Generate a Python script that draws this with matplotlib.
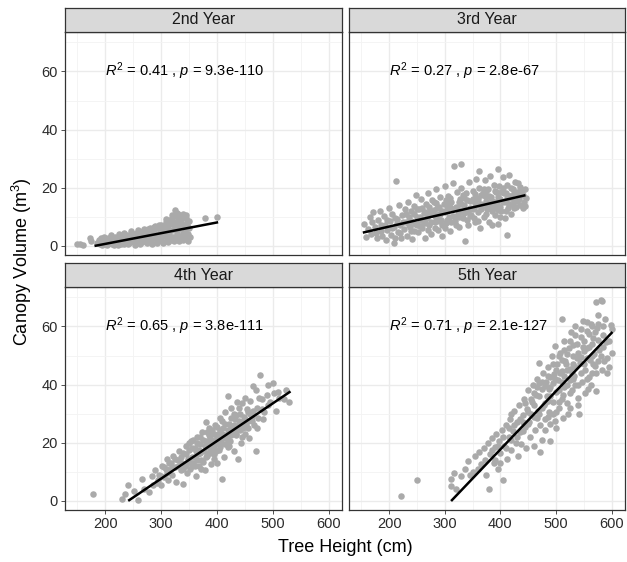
import matplotlib
matplotlib.use("Agg")
import matplotlib.pyplot as plt
import numpy as np

plt.rcParams['font.family'] = ['Liberation Sans', 'DejaVu Sans']
plt.rcParams['mathtext.fontset'] = 'custom'
plt.rcParams['mathtext.rm'] = 'Liberation Sans'
plt.rcParams['mathtext.it'] = 'Liberation Sans:italic'

# facet titles and fit statistics
years = ["2nd Year", "3rd Year", "4th Year", "5th Year"]
r2_labels = ["0.41", "0.27", "0.65", "0.71"]
p_labels = ["9.3e-110", "2.8e-67", "3.8e-111", "2.1e-127"]

# fitted lm lines (start/end of height range, predicted volume)
fit_x = [[183, 400], [155, 443], [243, 530], [313, 600]]
fit_y = [[0.0, 8.0], [4.6, 17.3], [0.2, 37.4], [0.2, 57.8]]

# 2nd year (height cm, volume m3)
pts2 = [(150,0.5),(155,0.6),(160,0.4),(172,2.6),(174,1.5),(185,0.8),(188,1.8),(190,0.5),(193,2.5),(196,1.2),
        (198,3.0),(200,0.6),(202,1.9),(205,2.8),(207,0.9),(210,3.6),(212,1.5),(214,2.2),(216,0.4),(218,3.1),
        (220,1.0),(222,2.6),(224,4.0),(226,1.4),(228,0.7),(230,3.3),(232,2.0),(234,4.5),(236,1.1),(238,2.9),
        (240,0.6),(242,3.8),(244,2.2),(246,5.0),(248,1.6),(250,3.0),(252,4.2),(254,0.9),(256,2.5),(258,5.4),
        (260,1.8),(262,3.6),(264,4.8),(266,1.2),(268,2.9),(270,5.9),(272,3.9),(274,0.8),(276,2.3),(278,4.4),
        (280,6.2),(282,1.6),(284,3.4),(286,5.1),(288,2.7),(290,6.8),(292,0.9),(294,4.0),(296,2.1),(298,5.6),
        (300,7.2),(302,3.2),(304,1.3),(306,4.7),(308,8.0),(310,2.5),(312,6.1),(314,3.8),(316,9.0),(318,1.8),
        (320,5.3),(322,7.6),(324,2.9),(325,12.2),(326,10.1),(328,4.4),(330,8.6),(332,1.6),(334,6.5),(336,9.6),
        (338,3.3),(339,2.0),(340,7.3),(342,5.0),(344,10.5),(346,8.2),(348,4.2),(350,6.0),(378,9.6),(400,9.8),
        (265,3.2),(275,2.5),(285,4.6),(295,3.1),(305,5.8),(315,4.9),(325,6.6),(335,7.8),(345,6.9),(300,4.5),
        (310,7.0),(320,9.6),(330,10.9),(340,11.0),(290,3.7),(280,3.5),(270,2.0),(260,2.8),(250,1.5),(240,2.0),
        (230,1.4),(300,2.2),(310,3.9),(320,3.0),(330,5.6),(340,4.5),(350,8.5),(352,3.0),
        (195,0.3),(205,1.2),(215,1.8),(225,2.2),(235,2.6),(245,3.0),(255,3.6),(265,4.2),(275,4.0),(285,5.5),
        (295,6.0),(305,6.8),(315,7.4),(325,8.2),(335,9.0),(345,9.5),(203,0.3),(213,0.6),(223,0.2),(233,0.5),
        (243,1.0),(253,0.4),(263,0.7),(273,1.5),(283,0.6),(293,1.9),(303,0.8),(313,1.2),(323,1.7),(333,3.0),
        (343,2.6),(349,1.5),(227,3.0),(237,3.8),(247,4.0),(257,4.5),(267,5.2),(277,5.6),(287,6.3),(297,7.0),
        (307,6.5),(317,8.3),(327,7.2),(337,10.4),(347,7.0),(319,10.5),(329,11.3),(309,9.2)]
h2 = [p[0] for p in pts2]
v2 = [p[1] for p in pts2]

# 3rd year
pts3 = [(155,7.5),(158,3.0),(162,5.8),(165,9.8),(168,4.2),(172,11.5),(175,6.5),(178,2.5),(180,8.8),(183,12.0),
        (185,5.0),(188,3.2),(190,10.2),(192,7.0),(195,1.8),(197,5.5),(200,13.0),(202,8.5),(204,3.8),(206,11.0),
        (208,6.3),(209,0.9),(210,2.6),(212,22.4),(214,9.2),(216,4.8),(218,14.0),(220,7.2),(222,2.8),(224,10.5),
        (226,5.8),(228,12.8),(230,8.0),(232,3.5),(234,15.0),(236,9.8),(238,6.3),(240,11.8),(242,2.2),(244,13.8),
        (246,7.5),(248,17.5),(250,10.0),(252,4.6),(254,12.5),(256,8.8),(258,16.0),(260,6.0),(262,11.2),(264,2.8),
        (266,14.5),(268,9.5),(270,18.2),(272,7.0),(274,12.0),(276,4.2),(278,15.8),(280,10.5),(282,8.0),(284,19.5),
        (286,13.0),(288,5.5),(290,11.0),(292,16.8),(294,9.0),(296,3.2),(298,14.2),(300,20.5),(302,7.8),(304,12.5),
        (306,17.2),(308,10.0),(310,5.0),(312,15.0),(314,21.5),(316,27.3),(318,8.5),(320,13.5),(322,18.5),(324,11.0),
        (326,6.5),(328,16.0),(329,28.2),(330,20.0),(332,9.5),(334,14.0),(336,1.5),(338,18.0),(340,12.0),(342,7.0),
        (344,22.0),(346,15.5),(348,10.5),(350,19.0),(352,13.0),(354,8.0),(356,23.0),(358,16.5),(360,11.5),(361,25.9),
        (362,20.0),(364,6.0),(366,14.5),(368,18.0),(370,10.0),(372,22.5),(374,15.5),(376,12.5),(378,19.5),(380,8.0),
        (382,24.0),(384,16.8),(386,13.5),(388,21.0),(390,10.5),(392,18.5),(394,14.5),(395,26.5),(396,7.5),(398,20.5),
        (400,16.0),(402,12.0),(404,23.5),(406,18.0),(408,9.5),(410,15.0),(412,20.8),(414,13.0),(416,24.5),(418,17.0),
        (420,11.0),(422,19.5),(424,15.5),(426,22.0),(428,13.5),(430,18.5),(432,21.5),(434,16.0),(436,14.0),(438,19.0),
        (440,17.5),(442,15.0),(444,13.8),(446,16.5),(240,8.5),(250,7.2),(260,9.0),(270,10.5),(280,12.2),(290,8.5),
        (300,11.5),(310,13.2),(320,10.0),(330,14.5),(340,15.8),(350,12.5),(360,16.0),(370,14.0),(380,17.0),(390,15.0),
        (400,13.5),(410,18.0),(420,16.5),(245,10.8),(255,6.8),(265,11.5),(275,8.2),(285,14.8),(295,12.0),(305,9.0),
        (315,12.8),(325,15.2),(335,11.2),(345,13.0),(355,17.8),(365,12.5),(375,18.8),(385,11.8),(395,16.8),(405,20.0),
        (415,14.5),(425,18.2),(435,20.2),(445,19.5),(412,3.8),(385,7.2),
        (205,6.0),(215,7.8),(225,8.2),(235,7.0),(245,5.2),(255,9.8),(265,7.8),(275,10.8),(285,9.5),(295,7.2),
        (305,14.0),(315,10.2),(325,9.8),(335,16.5),(345,10.2),(355,14.8),(365,17.5),(375,10.8),(385,15.5),(395,12.2),
        (405,15.2),(415,17.2),(425,13.0),(435,17.8),(210,9.5),(220,4.5),(230,11.0),(240,5.0),(250,12.8),(260,13.0),
        (270,5.5),(280,15.0),(290,13.5),(300,6.0),(310,16.5),(320,7.0),(330,12.0),(340,9.0),(350,16.0),(360,8.5),
        (370,19.5),(380,13.5),(390,19.0),(400,10.0),(410,12.0),(420,20.0),(430,15.5),(440,13.0),(262,8.0),(272,13.5),
        (282,6.2),(292,10.8),(302,15.8),(312,8.0),(322,13.0),(332,17.5),(342,11.5),(352,9.5),(362,14.0),(372,17.0),
        (382,14.8),(392,13.0),(402,18.5),(412,16.5),(422,14.0),(432,18.0),(186,7.0),(176,4.5),(196,9.0),(170,8.0)]
h3 = [p[0] for p in pts3]
v3 = [p[1] for p in pts3]

# 4th year
pts4 = [(179,2.2),(230,0.5),(236,2.4),(240,5.5),(252,3.5),(259,0.4),(265,7.5),(270,4.0),(279,3.0),(283,8.5),
        (289,10.7),(292,6.0),(296,9.0),(300,5.5),(302,12.0),(305,8.0),(308,11.0),(310,14.4),(312,7.0),(315,10.5),
        (318,13.0),(320,9.0),(322,15.5),(325,11.5),(327,6.5),(330,14.0),(332,17.0),(335,10.5),(337,13.0),(339,5.8),
        (340,16.5),(342,12.0),(344,19.0),(346,9.5),(348,14.5),(350,17.5),(352,11.0),(354,20.5),(356,15.0),(358,13.0),
        (360,18.0),(362,8.5),(364,22.0),(366,16.0),(368,12.0),(370,19.5),(372,14.0),(374,23.5),(376,17.0),(378,10.5),
        (380,27.0),(381,20.5),(383,15.5),(385,22.5),(387,18.0),(389,12.5),(391,24.5),(393,19.5),(395,16.0),(397,26.0),
        (399,21.0),(400,13.0),(402,23.0),(404,17.5),(406,28.5),(408,20.0),(409,7.5),(411,25.0),(413,15.0),(415,30.5),
        (417,22.0),(419,18.5),(420,36.0),(422,26.5),(424,20.5),(426,32.0),(428,24.0),(430,17.0),(432,28.0),(434,22.5),
        (436,34.0),(437,14.4),(439,26.0),(441,30.0),(443,20.0),(445,33.5),(447,25.0),(449,29.0),(451,23.0),(453,31.5),
        (455,27.5),(457,21.5),(460,34.5),(462,29.0),(465,39.5),(467,26.0),(470,17.2),(471,32.0),(474,28.5),(478,43.3),
        (481,35.0),(485,30.5),(491,40.0),(495,34.0),(500,40.5),(505,31.0),(509,37.4),(529,33.9),(520,35.0),
        (340,11.0),(350,13.5),(360,15.0),(370,16.5),(380,18.5),(390,21.0),(400,22.0),(410,23.0),(420,24.5),(430,26.0),
        (440,27.5),(450,28.0),(345,16.0),(355,12.0),(365,20.0),(375,13.5),(385,25.0),(395,19.0),(405,24.5),(415,19.5),
        (425,28.5),(435,25.5),(445,22.0),(455,30.5),(330,12.0),(320,11.5),(310,9.5),(300,8.5),(385,16.5),(395,14.5),
        (405,18.5),(415,26.5),(425,22.5),(435,29.5),(398,17.0),(388,21.5),(378,19.0),(368,17.5),(358,21.0),
        (335,15.0),(345,12.5),(355,18.0),(365,14.0),(375,21.0),(385,19.5),(395,23.0),(405,20.5),(415,22.5),(425,25.5),
        (435,23.0),(445,27.0),(455,25.0),(465,31.0),(475,35.5),(360,12.0),(370,22.0),(380,15.0),(390,17.0),(400,25.5),
        (410,27.5),(420,21.0),(430,30.0),(440,32.0),(450,35.5),(460,30.0),(470,38.0),(480,31.5),(490,36.5),(325,14.5),
        (315,13.0),(305,11.5),(295,7.0),(285,5.5),(350,20.0),(362,17.0),(372,11.0),(382,23.5),(392,16.5),(402,20.0),
        (412,21.5),(422,19.0),(432,24.0),(442,24.5),(452,26.0),(462,27.5),(472,25.0),(482,28.0),(492,33.0),(502,37.0),
        (512,35.5),(523,38.0)]
h4 = [p[0] for p in pts4]
v4 = [p[1] for p in pts4]

# 5th year
pts5 = [(221,1.6),(251,7.0),(311,7.5),(311,5.0),(317,9.6),(321,3.9),(330,8.5),(336,11.0),(342,13.8),(350,10.0),
        (355,15.5),(361,16.9),(365,12.5),(370,18.0),(372,14.0),(375,9.0),(378,20.0),(380,3.9),(382,16.0),(385,21.5),
        (388,13.0),(390,18.5),(393,23.0),(395,11.0),(398,20.5),(400,16.5),(403,24.5),(405,7.3),(407,19.0),(410,26.0),
        (412,14.5),(415,22.0),(417,28.0),(419,29.8),(420,17.5),(423,24.0),(425,31.0),(428,20.0),(430,27.0),(432,15.5),
        (434,33.0),(436,23.5),(437,19.5),(440,29.5),(442,35.0),(444,25.5),(446,18.0),(448,31.5),(450,38.0),(452,27.0),
        (454,22.0),(456,34.0),(458,40.0),(460,29.0),(462,24.5),(464,36.5),(466,42.0),(468,31.0),(470,47.5),(471,16.9),
        (472,26.0),(474,38.5),(476,44.0),(478,33.0),(480,28.0),(482,41.0),(484,36.0),(486,46.0),(488,30.5),(490,39.0),
        (492,50.0),(494,34.0),(496,43.5),(498,27.5),(499,53.2),(500,37.5),(502,47.0),(504,41.5),(506,32.0),(508,51.0),
        (510,62.7),(511,44.5),(513,36.5),(515,55.0),(517,48.0),(519,40.0),(521,30.0),(523,52.5),(525,45.5),(527,58.0),
        (529,38.0),(531,50.0),(533,43.0),(535,60.0),(537,54.0),(539,35.5),(541,29.8),(543,47.5),(545,56.5),(547,41.0),
        (549,62.0),(551,51.5),(553,45.0),(555,58.5),(557,38.5),(559,53.0),(561,48.5),(563,61.0),(565,44.0),(567,56.0),
        (569,50.5),(571,37.8),(572,68.6),(574,59.5),(576,64.0),(578,52.0),(580,69.0),(582,68.8),(584,57.0),(586,48.0),
        (588,62.5),(590,54.5),(595,46.0),(600,59.0),(600,51.0),(598,60.5),(592,44.0),
        (460,33.0),(470,36.0),(480,39.5),(490,42.5),(500,45.0),(510,48.5),(520,50.5),(530,53.5),(540,51.0),(550,55.0),
        (560,57.5),(570,58.0),(465,28.5),(475,32.0),(485,34.5),(495,40.5),(505,38.0),(515,43.0),(525,41.5),(535,46.0),
        (545,49.5),(555,52.5),(565,54.0),(575,55.5),(440,24.0),(450,26.5),(455,30.0),(445,33.5),(435,28.0),(425,26.0),
        (415,25.0),(405,22.0),(395,19.0),(385,17.5),(480,24.5),(490,26.5),(500,30.5),(510,35.0),(520,33.5),(530,42.0),
        (540,40.0),(550,47.0),(560,42.5),(570,46.5),(580,50.0),(490,20.5),(475,21.0),(460,19.0),
        (455,35.0),(465,39.0),(475,41.0),(485,43.0),(495,47.0),(505,50.0),(515,52.0),(525,55.0),(535,57.0),(545,59.0),
        (555,61.5),(565,60.0),(575,61.0),(585,60.0),(595,55.0),(505,34.0),(515,39.0),(525,37.0),(535,40.0),(545,44.0),
        (555,42.0),(565,50.0),(575,48.0),(585,53.0),(495,30.0),(485,29.0),(470,30.0),(450,30.5),(440,27.0),(430,22.0),
        (420,21.0),(410,18.0),(400,13.0),(390,14.0),(360,11.0),(345,9.0),(500,25.0),(512,28.5),(525,32.0),(540,33.0),
        (552,37.0),(562,40.0),(572,44.0),(582,45.0),(592,49.0),(530,47.0),(520,45.0),(510,41.0),(490,36.0),(480,33.5),
        (470,40.5),(460,37.0),(556,49.0),(566,47.0),(548,53.0),(538,49.0),(528,44.0),(518,47.0),(508,44.0),(498,42.0),
        (488,38.5)]
h5 = [p[0] for p in pts5]
v5 = [p[1] for p in pts5]

heights = [h2, h3, h4, h5]
volumes = [v2, v3, v4, v5]

W, H = 627, 562
fig = plt.figure(figsize=(W / 100, H / 100), dpi=100)

# pixel boxes (left, right) and (top of strip, top of panel, bottom of panel)
cols = [(65, 342), (349, 625)]
rows = [(8, 32, 255), (263, 287, 510)]

dark = '#333333'
for i in range(4):
    r, c = divmod(i, 2)
    x0, x1 = cols[c]
    st, pt, pb = rows[r]
    ax = fig.add_axes([x0 / W, 1 - pb / H, (x1 - x0) / W, (pb - pt) / H])
    sax = fig.add_axes([x0 / W, 1 - pt / H, (x1 - x0) / W, (pt - st) / H])

    ax.set_xlim(128, 624)
    ax.set_ylim(-3.2, 73.6)
    ax.set_xticks([200, 300, 400, 500, 600])
    ax.set_yticks([0, 20, 40, 60])
    ax.set_xticks([150, 250, 350, 450, 550], minor=True)
    ax.set_yticks([10, 30, 50, 70], minor=True)
    ax.grid(True, which='major', color='#EBEBEB', lw=1.0, zorder=0)
    ax.grid(True, which='minor', color='#F3F3F3', lw=0.6, zorder=0)
    ax.set_axisbelow(True)
    ax.tick_params(which='minor', length=0)
    ax.tick_params(which='major', length=3, color=dark, width=0.6, labelsize=10.5,
                   labelcolor='#2b2b2b', pad=2)
    for s in ax.spines.values():
        s.set_color(dark)
        s.set_linewidth(0.9)
    if r == 0:
        ax.tick_params(axis='x', length=0, labelbottom=False)
    if c == 1:
        ax.tick_params(axis='y', length=0, labelleft=False)

    ax.scatter(heights[i], volumes[i], s=22, color='#AAAAAA', linewidths=0, zorder=2)
    ax.plot(fit_x[i], fit_y[i], color='black', lw=1.8, zorder=3)
    ax.text(200, 60, "$R^2$ = " + r2_labels[i] + " , $p$ = " + p_labels[i],
            ha='left', va='center', fontsize=10.5, color='black')

    sax.set_facecolor('#D9D9D9')
    sax.set_xticks([])
    sax.set_yticks([])
    for s in sax.spines.values():
        s.set_color(dark)
        s.set_linewidth(0.9)
    sax.text(0.5, 0.5, years[i], ha='center', va='center', fontsize=11.5,
             color='#1A1A1A', transform=sax.transAxes)

fig.text(345 / W, 1 - 548 / H, "Tree Height (cm)", ha='center', va='center', fontsize=13)
fig.text(22 / W, 1 - 262 / H, "Canopy Volume (m$^3$)", ha='center', va='center',
         rotation=90, fontsize=13)

fig.savefig("out.png", dpi=100)
